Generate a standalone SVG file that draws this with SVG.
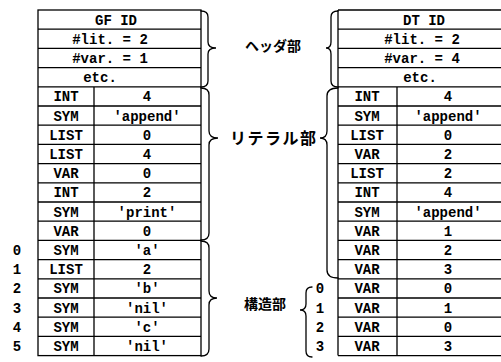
<svg xmlns="http://www.w3.org/2000/svg" width="501" height="362" viewBox="0 0 501 362">
<style>
.ln{stroke:#000;stroke-width:1.3;fill:none}
.br{stroke:#000;stroke-width:1.3;fill:none;stroke-linecap:round}
.t{font-family:"Liberation Mono","DejaVu Sans Mono",monospace;font-size:14px;fill:#000;text-anchor:middle;font-weight:bold}
.ty{font-family:"Liberation Mono","DejaVu Sans Mono",monospace;font-size:14px;fill:#000;text-anchor:middle;font-weight:bold}
.ix{font-family:"Liberation Mono","DejaVu Sans Mono",monospace;font-size:14px;fill:#000;text-anchor:middle;font-weight:bold}
.jp{font-family:"Noto Sans CJK JP",sans-serif;font-size:14px;fill:#000;font-weight:bold}
</style>
<rect width="501" height="362" fill="#fff"/>

<g id="left-table">
<rect class="ln" x="38" y="10" width="163" height="345.6"/>
<path class="ln" d="M38 29.2H201M38 48.4H201M38 67.6H201M38 86.8H201M38 106H201M38 125.2H201M38 144.4H201M38 163.6H201M38 182.8H201M38 202H201M38 221.2H201M38 240.4H201M38 259.6H201M38 278.8H201M38 298H201M38 317.2H201M38 336.4H201M94 86.8V355.6"/>
<text class="t" x="116" y="24.6">GF ID</text>
<text class="t" x="110" y="43.8">#lit. = 2</text>
<text class="t" x="110" y="63">#var. = 1</text>
<text class="t" x="100" y="82.2">etc.</text>
<text class="ty" x="66" y="101.4">INT</text><text class="t" x="147" y="101.4">4</text>
<text class="ty" x="66" y="120.6">SYM</text><text class="t" x="147" y="120.6">'append'</text>
<text class="ty" x="66" y="139.8">LIST</text><text class="t" x="147" y="139.8">0</text>
<text class="ty" x="66" y="159">LIST</text><text class="t" x="147" y="159">4</text>
<text class="ty" x="66" y="178.2">VAR</text><text class="t" x="147" y="178.2">0</text>
<text class="ty" x="66" y="197.4">INT</text><text class="t" x="147" y="197.4">2</text>
<text class="ty" x="66" y="216.6">SYM</text><text class="t" x="147" y="216.6">'print'</text>
<text class="ty" x="66" y="235.8">VAR</text><text class="t" x="147" y="235.8">0</text>
<text class="ty" x="66" y="255">SYM</text><text class="t" x="147" y="255">'a'</text>
<text class="ty" x="66" y="274.2">LIST</text><text class="t" x="147" y="274.2">2</text>
<text class="ty" x="66" y="293.4">SYM</text><text class="t" x="147" y="293.4">'b'</text>
<text class="ty" x="66" y="312.6">SYM</text><text class="t" x="147" y="312.6">'nil'</text>
<text class="ty" x="66" y="331.8">SYM</text><text class="t" x="147" y="331.8">'c'</text>
<text class="ty" x="66" y="351">SYM</text><text class="t" x="147" y="351">'nil'</text>
<text class="ix" x="17" y="255">0</text>
<text class="ix" x="17" y="274.2">1</text>
<text class="ix" x="17" y="293.4">2</text>
<text class="ix" x="17" y="312.6">3</text>
<text class="ix" x="17" y="331.8">4</text>
<text class="ix" x="17" y="351">5</text>
</g>

<g id="right-table">
<path class="ln" d="M338 10V355.6M338 10H501M338 355.6H501M338 29.2H501M338 48.4H501M338 67.6H501M338 86.8H501M338 106H501M338 125.2H501M338 144.4H501M338 163.6H501M338 182.8H501M338 202H501M338 221.2H501M338 240.4H501M338 259.6H501M338 278.8H501M338 298H501M338 317.2H501M338 336.4H501M397 86.8V355.6"/>
<text class="t" x="424" y="24.6">DT ID</text>
<text class="t" x="422" y="43.8">#lit. = 2</text>
<text class="t" x="422" y="63">#var. = 4</text>
<text class="t" x="420" y="82.2">etc.</text>
<text class="ty" x="367" y="101.4">INT</text><text class="t" x="448" y="101.4">4</text>
<text class="ty" x="367" y="120.6">SYM</text><text class="t" x="448" y="120.6">'append'</text>
<text class="ty" x="367" y="139.8">LIST</text><text class="t" x="448" y="139.8">0</text>
<text class="ty" x="367" y="159">VAR</text><text class="t" x="448" y="159">2</text>
<text class="ty" x="367" y="178.2">LIST</text><text class="t" x="448" y="178.2">2</text>
<text class="ty" x="367" y="197.4">INT</text><text class="t" x="448" y="197.4">4</text>
<text class="ty" x="367" y="216.6">SYM</text><text class="t" x="448" y="216.6">'append'</text>
<text class="ty" x="367" y="235.8">VAR</text><text class="t" x="448" y="235.8">1</text>
<text class="ty" x="367" y="255">VAR</text><text class="t" x="448" y="255">2</text>
<text class="ty" x="367" y="274.2">VAR</text><text class="t" x="448" y="274.2">3</text>
<text class="ty" x="367" y="293.4">VAR</text><text class="t" x="448" y="293.4">0</text>
<text class="ty" x="367" y="312.6">VAR</text><text class="t" x="448" y="312.6">1</text>
<text class="ty" x="367" y="331.8">VAR</text><text class="t" x="448" y="331.8">0</text>
<text class="ty" x="367" y="351">VAR</text><text class="t" x="448" y="351">3</text>
<text class="ix" x="320" y="293.4">0</text>
<text class="ix" x="320" y="312.6">1</text>
<text class="ix" x="320" y="331.8">2</text>
<text class="ix" x="320" y="351">3</text>
</g>

<g id="connectors">
<path class="br" d="M201 11Q208 11 208 17L208 42Q208 48 216 48Q208 48 208 54L208 81Q208 87 201 87"/>
<path class="br" d="M201 88Q209 88 209 95L209 131Q209 138 218 138Q209 138 209 145L209 233Q209 240 201 240"/>
<path class="br" d="M201 241Q209 241 209 248L209 291Q209 298 217 298Q209 298 209 305L209 349Q209 356 201 356"/>
<path class="br" d="M338 11Q331 11 331 17L331 42Q331 48 326 48Q331 48 331 54L331 81Q331 87 338 87"/>
<path class="br" d="M338 88Q327 88 327 96L327 131Q327 138 320 138Q327 138 327 145L327 270Q327 278 338 278"/>
<path class="br" d="M312 287Q306 287 306 293L306 304Q306 310 300 310Q306 310 306 316L306 351Q306 357 312 357"/>
</g>

<g id="labels">
<text class="jp" x="245" y="51">ヘッダ部</text>
<text class="jp" x="230" y="144" style="font-size:16px;letter-spacing:1.5px">リテラル部</text>
<text class="jp" x="244" y="309">構造部</text>
</g>
</svg>
